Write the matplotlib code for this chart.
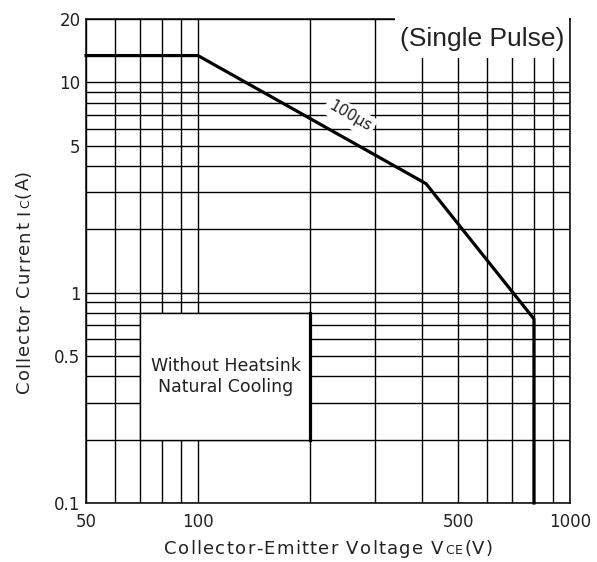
import matplotlib
matplotlib.use("Agg")
import matplotlib.pyplot as plt
from matplotlib import font_manager, ft2font
from matplotlib.patches import Rectangle
from matplotlib.ticker import FixedLocator, NullFormatter
from matplotlib.transforms import IdentityTransform

plt.rcParams["font.family"] = ["DejaVu Sans"]

# safe operating area, 100us single pulse
soa_v = [50, 100, 410, 800, 800]
soa_i = [13.4, 13.4, 3.3, 0.75, 0.1]

# without heatsink (natural cooling) limit
nh_v = [200, 200]
nh_i = [0.8, 0.2]
nh_box_v = [70, 200]
nh_box_i = [0.2, 0.8]

x_major = [50, 100, 500, 1000]
x_minor = [60, 70, 80, 90, 200, 300, 400, 600, 700, 800, 900]
y_major = [0.1, 0.5, 1, 5, 10, 20]
y_minor = [0.2, 0.3, 0.4, 0.6, 0.7, 0.8, 0.9, 2, 3, 4, 6, 7, 8, 9]

W, H = 597, 562
fig = plt.figure(figsize=(W / 100, H / 100), dpi=100)
ax = fig.add_axes([86 / W, 1 - 503 / H, 484 / W, 484 / H])
ax.set_xscale("log")
ax.set_yscale("log")
ax.set_xlim(50, 1000)
ax.set_ylim(0.1, 20)

ax.xaxis.set_major_locator(FixedLocator(x_major))
ax.xaxis.set_minor_locator(FixedLocator(x_minor))
ax.yaxis.set_major_locator(FixedLocator(y_major))
ax.yaxis.set_minor_locator(FixedLocator(y_minor))
ax.set_xticklabels([str(v) for v in x_major])
ax.set_yticklabels([("%g" % v) for v in y_major])
ax.xaxis.set_minor_formatter(NullFormatter())
ax.yaxis.set_minor_formatter(NullFormatter())
ax.tick_params(which="both", length=0, labelsize=12, colors="#222222")
ax.tick_params(axis="x", pad=7)
ax.tick_params(axis="y", pad=4)

ax.set_axisbelow(True)
ax.grid(True, which="both", color="black", linewidth=1.0)
for s in ax.spines.values():
    s.set_linewidth(1.1)

# white box for the natural cooling note
ax.add_patch(Rectangle((nh_box_v[0], nh_box_i[0]), nh_box_v[1] - nh_box_v[0],
                       nh_box_i[1] - nh_box_i[0], facecolor="white",
                       edgecolor="black", linewidth=1.0, zorder=1))
ax.text(119, 0.40, "Without Heatsink\nNatural Cooling", ha="center", va="center",
        fontsize=12.5, color="#222222", linespacing=1.25, zorder=2)

# curves
ax.plot(soa_v, soa_i, color="black", linewidth=2.3, zorder=4, clip_on=False)
ax.plot(nh_v, nh_i, color="black", linewidth=2.3, zorder=4)

ax.text(256, 6.9, "100\u00b5s", rotation=-30, rotation_mode="anchor",
        ha="center", va="center", fontsize=11, color="#222222",
        bbox=dict(facecolor="white", edgecolor="none", pad=2.5), zorder=3)

# (Single Pulse) box covers the top frame
ax.add_patch(Rectangle((0.638, 0.919), 0.359, 0.09, transform=ax.transAxes,
                       facecolor="white", edgecolor="none", zorder=2.6,
                       clip_on=False))
ax.text(0.818, 0.958, "(Single Pulse)", transform=ax.transAxes, ha="center",
        va="center", fontsize=19, family="Liberation Sans", color="#222222",
        zorder=3)


# axis titles are letter-spaced with small-cap subscripts, so they are
# set character by character using the font's advance widths
LABEL_FONT = "DejaVu Sans"
font_file = font_manager.findfont(font_manager.FontProperties(family=LABEL_FONT))


def advance_px(ch, size):
    f = ft2font.FT2Font(font_file)
    f.set_size(size, 72)
    g = f.load_char(ord(ch))
    return g.linearHoriAdvance / 65536 * 100 / 72


def spaced_label(parts, start, end, base, rotation=0):
    chars = [(c, size) for s, size in parts for c in s]
    adv = [advance_px(c, size) for c, size in chars]
    track = ((end - start) - sum(adv)) / (len(chars) - 1)
    pos = start
    for (c, size), a in zip(chars, adv):
        xy = (base, pos) if rotation else (pos, base)
        fig.text(xy[0], xy[1], c, fontsize=size, family=LABEL_FONT,
                 rotation=rotation, rotation_mode="anchor", ha="left",
                 va="baseline", color="#222222", transform=IdentityTransform())
        pos += a + track


spaced_label([("Collector-Emitter Voltage V", 13), ("CE", 9), ("(V)", 13)],
             164, 493, H - 554)
spaced_label([("Collector Current I", 13), ("C", 9), ("(A)", 13)],
             H - 393, H - 170, 29, rotation=90)

fig.savefig("out.png", dpi=100)
